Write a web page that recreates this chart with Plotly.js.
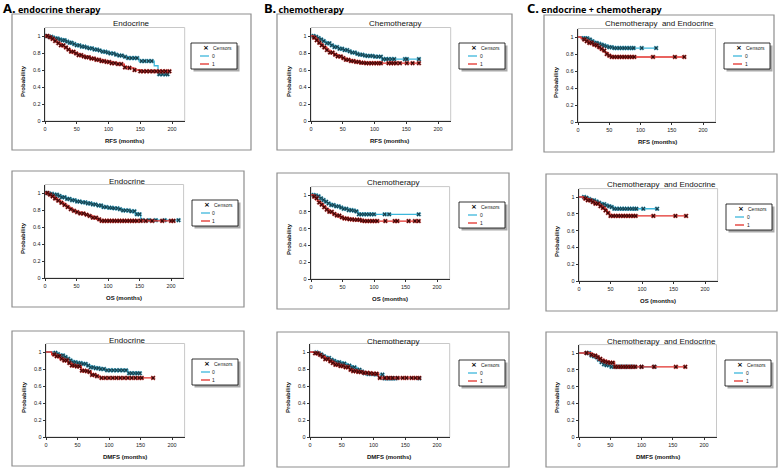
<!DOCTYPE html>
<html>
<head>
<script src="https://cdn.plot.ly/plotly-3.0.1.min.js"></script>
<style>
  html, body { margin: 0; padding: 0; background: #ffffff; }
  #fig { width: 778px; height: 469px; }
</style>
</head>
<body>
<div id="fig"></div>
<script>
// Kaplan-Meier curves: step times (months), survival, censor times
// group 0 = blue, group 1 = red

// A. endocrine therapy - RFS
const endoRfsT0 = [0, 6, 11, 16, 21, 27, 32, 38, 44, 50, 57, 63, 70, 77, 84, 90, 96, 103, 110, 117, 124, 131, 148, 172, 178, 193];
const endoRfsS0 = [1, 0.99, 0.98, 0.97, 0.96, 0.95, 0.935, 0.92, 0.905, 0.89, 0.875, 0.865, 0.855, 0.84, 0.83, 0.815, 0.805, 0.795, 0.78, 0.77, 0.755, 0.74, 0.705, 0.65, 0.55, 0.55];
const endoRfsC0 = [3, 7, 10, 13, 17, 20, 24, 28, 31, 35, 39, 42, 46, 50, 54, 58, 62, 66, 70, 74, 78, 82, 86, 91, 95, 99, 103, 108, 112, 117, 121, 126, 131, 136, 141, 145, 152, 157, 163, 168, 180, 185, 190, 193];
const endoRfsT1 = [0, 5, 10, 15, 20, 25, 30, 35, 40, 46, 52, 58, 65, 72, 80, 88, 96, 105, 115, 125, 132, 140, 150, 196];
const endoRfsS1 = [1, 0.985, 0.965, 0.94, 0.915, 0.89, 0.865, 0.84, 0.815, 0.795, 0.775, 0.76, 0.75, 0.735, 0.72, 0.705, 0.695, 0.68, 0.67, 0.63, 0.625, 0.6, 0.585, 0.585];
const endoRfsC1 = [4, 8, 12, 16, 21, 25, 29, 33, 37, 41, 45, 49, 53, 57, 61, 65, 69, 73, 77, 81, 85, 89, 93, 97, 101, 105, 110, 115, 120, 126, 133, 141, 150, 155, 160, 165, 170, 175, 180, 185, 190, 196];

// B. chemotherapy - RFS
const chemoRfsT0 = [0, 5, 9, 13, 18, 24, 30, 37, 44, 51, 58, 64, 70, 75, 82, 88, 98, 111, 170];
const chemoRfsS0 = [1, 0.99, 0.975, 0.96, 0.94, 0.915, 0.89, 0.87, 0.85, 0.835, 0.82, 0.805, 0.79, 0.78, 0.77, 0.765, 0.757, 0.728, 0.728];
const chemoRfsC0 = [4, 8, 12, 16, 20, 25, 29, 33, 37, 41, 45, 49, 53, 57, 61, 65, 69, 73, 77, 81, 85, 89, 93, 97, 101, 106, 110, 114, 118, 122, 127, 131, 148, 151, 170];
const chemoRfsT1 = [0, 4, 8, 12, 16, 20, 25, 30, 36, 42, 48, 55, 62, 70, 78, 87, 170];
const chemoRfsS1 = [1, 0.98, 0.95, 0.92, 0.89, 0.865, 0.835, 0.805, 0.78, 0.76, 0.74, 0.72, 0.705, 0.695, 0.685, 0.68, 0.68];
const chemoRfsC1 = [5, 9, 13, 17, 21, 25, 30, 34, 38, 42, 47, 51, 55, 59, 63, 67, 71, 75, 79, 83, 87, 91, 95, 99, 103, 107, 110, 122, 126, 130, 134, 140, 151, 160, 170];

// C. endocrine + chemotherapy - RFS
const bothRfsT0 = [0, 8, 16, 22, 27, 31, 35, 39, 43, 49, 56, 125];
const bothRfsS0 = [1, 0.985, 0.97, 0.95, 0.93, 0.92, 0.91, 0.9, 0.89, 0.88, 0.87, 0.87];
const bothRfsC0 = [9, 12, 15, 19, 23, 27, 30, 34, 38, 42, 46, 50, 54, 58, 62, 66, 70, 74, 78, 82, 86, 89, 102, 125];
const bothRfsT1 = [0, 5, 9, 13, 18, 23, 27, 31, 35, 39, 43, 46, 49, 54, 172];
const bothRfsS1 = [1, 0.98, 0.97, 0.95, 0.93, 0.91, 0.9, 0.88, 0.86, 0.84, 0.82, 0.8, 0.78, 0.765, 0.765];
const bothRfsC1 = [10, 14, 18, 22, 26, 30, 34, 38, 42, 46, 50, 54, 58, 62, 66, 70, 74, 78, 82, 86, 90, 120, 155, 170];

// A. endocrine - OS
const endoOsT0 = [0, 6, 13, 20, 27, 34, 42, 50, 58, 66, 74, 82, 90, 98, 108, 116, 124, 135, 143, 152, 213];
const endoOsS0 = [1, 0.99, 0.98, 0.965, 0.95, 0.93, 0.915, 0.9, 0.89, 0.878, 0.866, 0.853, 0.835, 0.826, 0.82, 0.81, 0.795, 0.785, 0.75, 0.68, 0.68];
const endoOsC0 = [3, 7, 11, 15, 19, 23, 27, 31, 35, 39, 43, 47, 51, 55, 60, 64, 68, 72, 76, 80, 85, 89, 93, 97, 102, 106, 110, 115, 119, 124, 128, 133, 137, 142, 146, 150, 155, 165, 176, 190, 212];
const endoOsT1 = [0, 5, 10, 15, 20, 25, 30, 35, 40, 45, 50, 56, 62, 69, 76, 82, 87, 204];
const endoOsS1 = [1, 0.98, 0.96, 0.935, 0.91, 0.885, 0.86, 0.835, 0.81, 0.79, 0.775, 0.76, 0.745, 0.73, 0.71, 0.69, 0.672, 0.672];
const endoOsC1 = [4, 8, 12, 16, 21, 26, 31, 36, 41, 46, 51, 56, 61, 66, 71, 76, 81, 86, 90, 94, 98, 102, 106, 110, 114, 118, 122, 126, 130, 134, 138, 142, 146, 152, 160, 170, 186, 200, 204];

// B. chemotherapy - OS
const chemoOsT0 = [0, 5, 9, 13, 17, 21, 26, 32, 38, 45, 52, 59, 66, 71, 75, 172];
const chemoOsS0 = [1, 0.995, 0.985, 0.96, 0.94, 0.92, 0.9, 0.88, 0.865, 0.85, 0.835, 0.82, 0.815, 0.805, 0.77, 0.77];
const chemoOsC0 = [4, 8, 12, 16, 20, 24, 28, 32, 36, 40, 44, 48, 52, 56, 60, 64, 68, 72, 76, 80, 84, 88, 92, 96, 100, 117, 124, 171];
const chemoOsT1 = [0, 4, 7, 10, 13, 16, 20, 24, 29, 34, 40, 46, 52, 60, 68, 78, 85, 171];
const chemoOsS1 = [1, 0.98, 0.96, 0.93, 0.91, 0.885, 0.855, 0.825, 0.8, 0.775, 0.755, 0.735, 0.72, 0.71, 0.705, 0.695, 0.69, 0.69];
const chemoOsC1 = [5, 9, 13, 17, 21, 25, 29, 33, 37, 41, 45, 49, 53, 57, 61, 65, 69, 73, 77, 81, 85, 89, 93, 97, 101, 105, 118, 133, 137, 155, 165, 171];

// C. endocrine + chemotherapy - OS
const bothOsT0 = [0, 9, 15, 20, 26, 31, 36, 41, 47, 52, 56, 124];
const bothOsS0 = [1, 0.99, 0.975, 0.96, 0.945, 0.93, 0.915, 0.9, 0.89, 0.88, 0.86, 0.86];
const bothOsC0 = [8, 12, 16, 20, 24, 28, 32, 36, 40, 44, 48, 52, 56, 60, 64, 68, 72, 76, 80, 84, 88, 91, 102, 124];
const bothOsT1 = [0, 7, 13, 20, 26, 33, 38, 42, 45, 49, 170];
const bothOsS1 = [1, 0.98, 0.96, 0.94, 0.92, 0.89, 0.87, 0.84, 0.81, 0.775, 0.775];
const bothOsC1 = [10, 14, 18, 22, 26, 30, 34, 38, 42, 46, 50, 54, 58, 62, 66, 70, 74, 78, 82, 86, 90, 118, 153, 170];

// A. endocrine - DMFS
const endoDmT0 = [0, 12, 18, 22, 28, 33, 38, 43, 50, 59, 65, 70, 78, 86, 93, 130, 149];
const endoDmS0 = [1, 0.99, 0.975, 0.96, 0.94, 0.92, 0.9, 0.88, 0.87, 0.86, 0.84, 0.82, 0.81, 0.8, 0.785, 0.75, 0.75];
const endoDmC0 = [15, 19, 23, 27, 31, 35, 39, 43, 47, 51, 55, 59, 63, 67, 71, 75, 79, 83, 87, 92, 97, 102, 107, 112, 117, 122, 127, 132, 136, 141, 145, 149];
const endoDmT1 = [0, 9, 15, 22, 28, 35, 41, 48, 56, 62, 67, 72, 80, 86, 170];
const endoDmS1 = [1, 0.97, 0.95, 0.92, 0.9, 0.87, 0.84, 0.83, 0.78, 0.775, 0.765, 0.73, 0.715, 0.695, 0.695];
const endoDmC1 = [13, 17, 21, 25, 29, 33, 37, 41, 45, 49, 53, 57, 61, 65, 69, 73, 77, 81, 88, 94, 100, 106, 112, 118, 124, 130, 136, 142, 148, 152, 170];

// B. chemotherapy - DMFS
const chemoDmT0 = [0, 6, 11, 16, 21, 26, 32, 38, 42, 50, 58, 66, 74, 80, 84, 92, 100, 116, 172];
const chemoDmS0 = [1, 0.995, 0.985, 0.97, 0.95, 0.93, 0.91, 0.895, 0.88, 0.865, 0.84, 0.82, 0.79, 0.77, 0.75, 0.74, 0.735, 0.69, 0.69];
const chemoDmC0 = [10, 14, 18, 22, 26, 30, 34, 38, 42, 46, 50, 54, 58, 62, 66, 70, 74, 78, 82, 86, 92, 98, 104, 114, 117, 120, 123, 126, 129, 132, 135, 172];
const chemoDmT1 = [0, 4, 8, 13, 18, 24, 30, 36, 40, 47, 55, 62, 68, 76, 84, 92, 100, 108, 172];
const chemoDmS1 = [1, 0.995, 0.985, 0.965, 0.945, 0.915, 0.89, 0.87, 0.85, 0.835, 0.82, 0.79, 0.775, 0.765, 0.755, 0.75, 0.745, 0.695, 0.695];
const chemoDmC1 = [8, 12, 16, 20, 24, 28, 32, 36, 40, 44, 48, 52, 56, 60, 64, 68, 72, 76, 80, 85, 90, 95, 100, 105, 110, 118, 124, 130, 138, 146, 152, 160, 166, 172];

// C. endocrine + chemotherapy - DMFS
const bothDmT0 = [0, 18, 22, 26, 30, 34, 39, 44, 52, 121];
const bothDmS0 = [1, 0.97, 0.96, 0.95, 0.92, 0.89, 0.865, 0.855, 0.835, 0.835];
const bothDmC0 = [12, 16, 20, 24, 28, 32, 36, 40, 44, 48, 52, 56, 60, 64, 68, 72, 76, 80, 84, 88, 100, 121];
const bothDmT1 = [0, 20, 24, 28, 32, 36, 40, 44, 50, 57, 172];
const bothDmS1 = [1, 0.98, 0.97, 0.95, 0.93, 0.91, 0.9, 0.89, 0.885, 0.835, 0.835];
const bothDmC1 = [12, 20, 26, 30, 34, 38, 42, 46, 50, 54, 58, 62, 66, 70, 74, 78, 82, 86, 90, 100, 120, 155, 170];

const groupNames = ['0', '1'];
const xTicks = [0, 50, 100, 150, 200];
const yTicks = [0, 0.2, 0.4, 0.6, 0.8, 1];

// layout of each panel in pixels: outer frame, x origin, px per month, y of 0 and of 1, legend box
const panels = [
  {t:[endoRfsT0,endoRfsT1], s:[endoRfsS0,endoRfsS1], c:[endoRfsC0,endoRfsC1], title:'Endocrine', xlab:'RFS (months)',
   frame:[12,14,251,150], x0:45, k:0.635, yz:121, y1:36, leg:[191,43], ty:24},
  {t:[chemoRfsT0,chemoRfsT1], s:[chemoRfsS0,chemoRfsS1], c:[chemoRfsC0,chemoRfsC1], title:'Chemotherapy', xlab:'RFS (months)',
   frame:[277,14,512,150], x0:311, k:0.635, yz:121, y1:36, leg:[459,43], ty:24},
  {t:[bothRfsT0,bothRfsT1], s:[bothRfsS0,bothRfsS1], c:[bothRfsC0,bothRfsC1], title:'Chemotherapy  and Endocrine', xlab:'RFS (months)',
   frame:[544,15,774,152], x0:578, k:0.625, yz:122, y1:37, leg:[724,43], ty:24},
  {t:[endoOsT0,endoOsT1], s:[endoOsS0,endoOsS1], c:[endoOsC0,endoOsC1], title:'Endocrine', xlab:'OS (months)',
   frame:[12,171,244,307], x0:45, k:0.63, yz:278, y1:193, leg:[192,200], ty:181},
  {t:[chemoOsT0,chemoOsT1], s:[chemoOsS0,chemoOsS1], c:[chemoOsC0,chemoOsC1], title:'Chemotherapy', xlab:'OS (months)',
   frame:[277,173,509,309], x0:311, k:0.63, yz:279, y1:195, leg:[459,202], ty:183},
  {t:[bothOsT0,bothOsT1], s:[bothOsS0,bothOsS1], c:[bothOsC0,bothOsC1], title:'Chemotherapy  and Endocrine', xlab:'OS (months)',
   frame:[546,174,777,311], x0:579, k:0.63, yz:281, y1:197, leg:[726,204], ty:184},
  {t:[endoDmT0,endoDmT1], s:[endoDmS0,endoDmS1], c:[endoDmC0,endoDmC1], title:'Endocrine', xlab:'DMFS (months)',
   frame:[12,331,244,466], x0:46, k:0.63, yz:437, y1:352, leg:[192,359], ty:340},
  {t:[chemoDmT0,chemoDmT1], s:[chemoDmS0,chemoDmS1], c:[chemoDmC0,chemoDmC1], title:'Chemotherapy', xlab:'DMFS (months)',
   frame:[277,332,509,467], x0:310, k:0.635, yz:437, y1:352, leg:[459,360], ty:341},
  {t:[bothDmT0,bothDmT1], s:[bothDmS0,bothDmS1], c:[bothDmC0,bothDmC1], title:'Chemotherapy  and Endocrine', xlab:'DMFS (months)',
   frame:[546,332,777,467], x0:579, k:0.625, yz:437, y1:353, leg:[725,360], ty:341}
];

const W = 778, H = 469;
const fx = px => px / W;
const fy = py => 1 - py / H;

const lineCol = ['#3db7db', '#e2302b'];
const censCol = ['#173c47', '#3a0808'];
const tickFont = {family: 'Liberation Sans, Arial, sans-serif', size: 5.5, color: '#222'};
const boldFont = {family: 'Liberation Sans, Arial, sans-serif', size: 6, color: '#111'};

function survAt(t, ts, ss) {
  let v = ss[0];
  for (let i = 0; i < ts.length; i++) { if (ts[i] <= t) v = ss[i]; }
  return v;
}

const data = [];
const shapes = [];
const annotations = [];
const layout = {
  width: W, height: H,
  margin: {l: 0, r: 0, t: 0, b: 0},
  paper_bgcolor: '#ffffff',
  plot_bgcolor: 'rgba(0,0,0,0)',
  showlegend: false,
  font: {family: 'Liberation Sans, Arial, sans-serif'}
};

panels.forEach((p, i) => {
  const n = i + 1;
  const xa = n === 1 ? 'x' : 'x' + n;
  const ya = n === 1 ? 'y' : 'y' + n;
  const xRight = p.x0 + 220 * p.k;
  const yTop = p.yz - 1.1 * (p.yz - p.y1);

  layout['xaxis' + (n === 1 ? '' : n)] = {
    domain: [fx(p.x0), fx(xRight)], anchor: ya, range: [0, 220],
    tickvals: xTicks, ticks: 'outside', ticklen: 2.5, tickcolor: '#000', tickwidth: 0.8,
    showline: true, linecolor: '#000', linewidth: 0.8, showgrid: false, zeroline: false,
    tickfont: tickFont, fixedrange: true
  };
  layout['yaxis' + (n === 1 ? '' : n)] = {
    domain: [fy(p.yz), fy(yTop)], anchor: xa, range: [0, 1.1],
    tickvals: yTicks, ticks: 'outside', ticklen: 2.5, tickcolor: '#000', tickwidth: 0.8,
    showline: true, linecolor: '#000', linewidth: 0.8, showgrid: false, zeroline: false,
    tickfont: tickFont, fixedrange: true
  };

  // outer frame of the panel
  shapes.push({type: 'rect', xref: 'paper', yref: 'paper', layer: 'below',
    x0: fx(p.frame[0]), x1: fx(p.frame[2]), y0: fy(p.frame[3]), y1: fy(p.frame[1]),
    line: {color: '#8e8e8e', width: 1.2}, fillcolor: '#ffffff'});
  // plot area border (light grey, right and top)
  shapes.push({type: 'rect', xref: 'paper', yref: 'paper', layer: 'below',
    x0: fx(p.x0), x1: fx(xRight), y0: fy(p.yz), y1: fy(yTop),
    line: {color: '#c8c8c8', width: 1}, fillcolor: 'rgba(0,0,0,0)'});

  // curves
  [0, 1].forEach(g => {
    data.push({
      x: p.t[g], y: p.s[g], xaxis: xa, yaxis: ya, mode: 'lines',
      line: {shape: 'hv', color: lineCol[g], width: 1.3},
      name: groupNames[g], hoverinfo: 'skip'
    });
    data.push({
      x: p.c[g], y: p.c[g].map(t => survAt(t, p.t[g], p.s[g])), xaxis: xa, yaxis: ya,
      mode: 'markers',
      marker: {symbol: 'x', size: 4, color: censCol[g], line: {color: lineCol[g], width: 0.4}},
      name: 'Censors', hoverinfo: 'skip'
    });
  });

  // panel title
  annotations.push({xref: 'paper', yref: 'paper', x: fx((p.frame[0] + p.frame[2]) / 2), y: fy(p.ty),
    text: p.title, showarrow: false, xanchor: 'center', yanchor: 'middle',
    font: {family: 'Liberation Sans, Arial, sans-serif', size: 8, color: '#111'}});
  // axis titles
  annotations.push({xref: 'paper', yref: 'paper', x: fx(p.x0 + 79), y: fy(p.yz + 19.5),
    text: '<b>' + p.xlab + '</b>', showarrow: false, xanchor: 'center', yanchor: 'middle', font: boldFont});
  annotations.push({xref: 'paper', yref: 'paper', x: fx(p.x0 - 22), y: fy(p.yz - 40),
    text: '<b>Probability</b>', showarrow: false, textangle: -90, xanchor: 'center', yanchor: 'middle', font: boldFont});

  // legend box with shadow
  const lx = p.leg[0], ly = p.leg[1], lw = 46, lh = 26;
  shapes.push({type: 'rect', xref: 'paper', yref: 'paper',
    x0: fx(lx + 2.5), x1: fx(lx + lw + 2.5), y0: fy(ly + lh + 2.5), y1: fy(ly + 2.5),
    line: {width: 0}, fillcolor: '#a9a9a9'});
  shapes.push({type: 'rect', xref: 'paper', yref: 'paper',
    x0: fx(lx), x1: fx(lx + lw), y0: fy(ly + lh), y1: fy(ly),
    line: {color: '#000', width: 0.8}, fillcolor: '#ffffff'});
  [0, 1].forEach(g => {
    const yy = ly + 13 + 8 * g;
    shapes.push({type: 'line', xref: 'paper', yref: 'paper',
      x0: fx(lx + 9), x1: fx(lx + 18), y0: fy(yy), y1: fy(yy),
      line: {color: lineCol[g], width: 1.3}});
    annotations.push({xref: 'paper', yref: 'paper', x: fx(lx + 18.5), y: fy(yy),
      text: groupNames[g], showarrow: false, xanchor: 'left', yanchor: 'middle',
      font: {family: 'Liberation Sans, Arial, sans-serif', size: 5, color: '#222'}});
  });
  annotations.push({xref: 'paper', yref: 'paper', x: fx(lx + 15), y: fy(ly + 5),
    text: '<b>×</b>', showarrow: false, xanchor: 'center', yanchor: 'middle',
    font: {family: 'DejaVu Sans, sans-serif', size: 7, color: '#000'}});
  annotations.push({xref: 'paper', yref: 'paper', x: fx(lx + 20), y: fy(ly + 5),
    text: 'Censors', showarrow: false, xanchor: 'left', yanchor: 'middle',
    font: {family: 'Liberation Sans, Arial, sans-serif', size: 5, color: '#222'}});
});

// column headings
const headings = [
  {x: 2, letter: 'A.', text: 'endocrine therapy'},
  {x: 263, letter: 'B.', text: 'chemotherapy'},
  {x: 526, letter: 'C.', text: 'endocrine + chemotherapy'}
];
headings.forEach(h => {
  annotations.push({xref: 'paper', yref: 'paper', x: fx(h.x), y: fy(-1.5), showarrow: false,
    xanchor: 'left', yanchor: 'top', borderpad: 0,
    text: '<span style="font-size:13px">' + h.letter + '</span> ' + h.text,
    font: {family: 'Noto Sans, Liberation Sans, sans-serif', size: 9, color: '#000', weight: 'bold'}});
});

layout.shapes = shapes;
layout.annotations = annotations;

Plotly.newPlot('fig', data, layout, {staticPlot: true, displayModeBar: false});
</script>
</body>
</html>
